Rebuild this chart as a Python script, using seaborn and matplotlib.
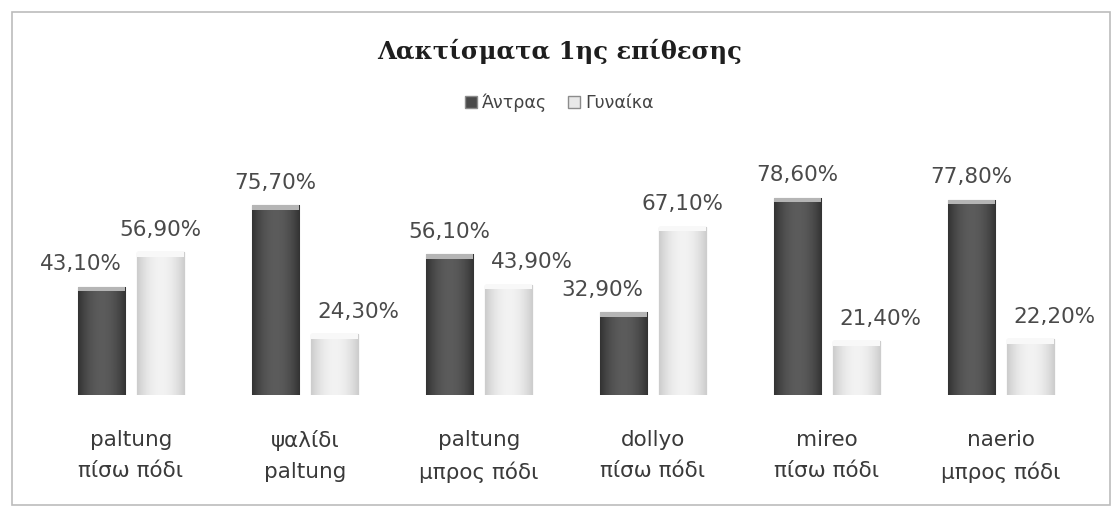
import numpy as np
import pandas as pd
import seaborn as sns
from matplotlib import pyplot as plt
from matplotlib.patches import Rectangle, Patch

# data
categories = ["paltung\nπίσω πόδι", "ψαλίδι\npaltung", "paltung\nμπρος πόδι",
              "dollyo\nπίσω πόδι", "mireo\nπίσω πόδι", "naerio\nμπρος πόδι"]
men = [43.1, 75.7, 56.1, 32.9, 78.6, 77.8]
women = [56.9, 24.3, 43.9, 67.1, 21.4, 22.2]
series = ["Άντρας", "Γυναίκα"]

df = pd.DataFrame({
    "cat": categories * 2,
    "val": men + women,
    "sex": [series[0]] * len(men) + [series[1]] * len(women),
})

sns.set_style("white")
plt.rcParams["font.family"] = ["DejaVu Sans"]

fig = plt.figure(figsize=(11.19, 5.15), dpi=100)
ax = fig.add_axes([0.0393, 0.233, 0.933, 0.487])

sns.barplot(data=df, x="cat", y="val", hue="sex", order=categories,
            hue_order=series, palette=["#4a4a4a", "#e8e8e8"],
            width=0.68, gap=0.2, edgecolor="#8c8c8c", linewidth=0.8,
            legend=False, ax=ax)

# shaded look of the bars (cylinder-like gradient)
xs = np.linspace(0, 1, 64)
shade = 1 - (2 * np.abs(xs - 0.5)) ** 2
for i, cont in enumerate(ax.containers):
    for p in cont:
        x0, y0 = p.get_x(), p.get_y()
        w, h = p.get_width(), p.get_height()
        if i == 0:
            grad = 0.2 + 0.16 * shade
        else:
            grad = 0.80 + 0.15 * shade
        img = np.tile(grad, (2, 1))
        im = ax.imshow(img, cmap="gray", vmin=0, vmax=1, aspect="auto",
                       extent=[x0, x0 + w, y0, y0 + h], zorder=p.get_zorder() + 0.1,
                       interpolation="bicubic")
        im.set_clip_path(p)
        # lighter rim on top
        ax.add_patch(Rectangle((x0, y0 + h - 1.8), w, 1.8,
                               facecolor="#b5b5b5" if i == 0 else "#f8f8f8",
                               edgecolor="none", zorder=p.get_zorder() + 0.2))

anns = []
for cont in ax.containers:
    labels = [f"{v:.2f}%".replace(".", ",") for v in cont.datavalues]
    anns.append(ax.bar_label(cont, labels=labels, padding=9, fontsize=15.5,
                             color="#4a4a4a"))

# the label of the shorter bar in each pair is nudged outward, as in the original
for k in range(len(categories)):
    if men[k] < women[k]:
        anns[0][k].xyann = (-15, 9)
    else:
        anns[1][k].xyann = (17, 9)

ax.set_ylim(0, 100)
ax.set_xlim(-0.5, len(categories) - 0.5)
ax.set_xlabel("")
ax.set_ylabel("")
ax.set_yticks([])
ax.tick_params(axis="x", length=0, pad=25, labelsize=15.5, labelcolor="#3a3a3a")
for lbl in ax.get_xticklabels():
    lbl.set_linespacing(1.7)
sns.despine(ax=ax, left=True, bottom=True)

fig.text(0.5, 0.9, "Λακτίσματα 1ης επίθεσης", ha="center", va="center",
         fontsize=17.5, fontweight="bold", family=["DejaVu Serif"],
         color="#1e1e1e")

handles = [Patch(facecolor="#4a4a4a", edgecolor="#8c8c8c"),
           Patch(facecolor="#e8e8e8", edgecolor="#8c8c8c")]
fig.legend(handles, series, loc="center", bbox_to_anchor=(0.5, 0.8), ncol=2,
           frameon=False, fontsize=12.5, handlelength=0.7, handleheight=0.7,
           handletextpad=0.3, columnspacing=1.2, labelcolor="#444444")

# outer frame of the chart
fig.add_artist(Rectangle((0.011, 0.02), 0.981, 0.957, transform=fig.transFigure,
                         fill=False, edgecolor="#bcbcbc", linewidth=1.2))

fig.savefig("out.png", dpi=100)
